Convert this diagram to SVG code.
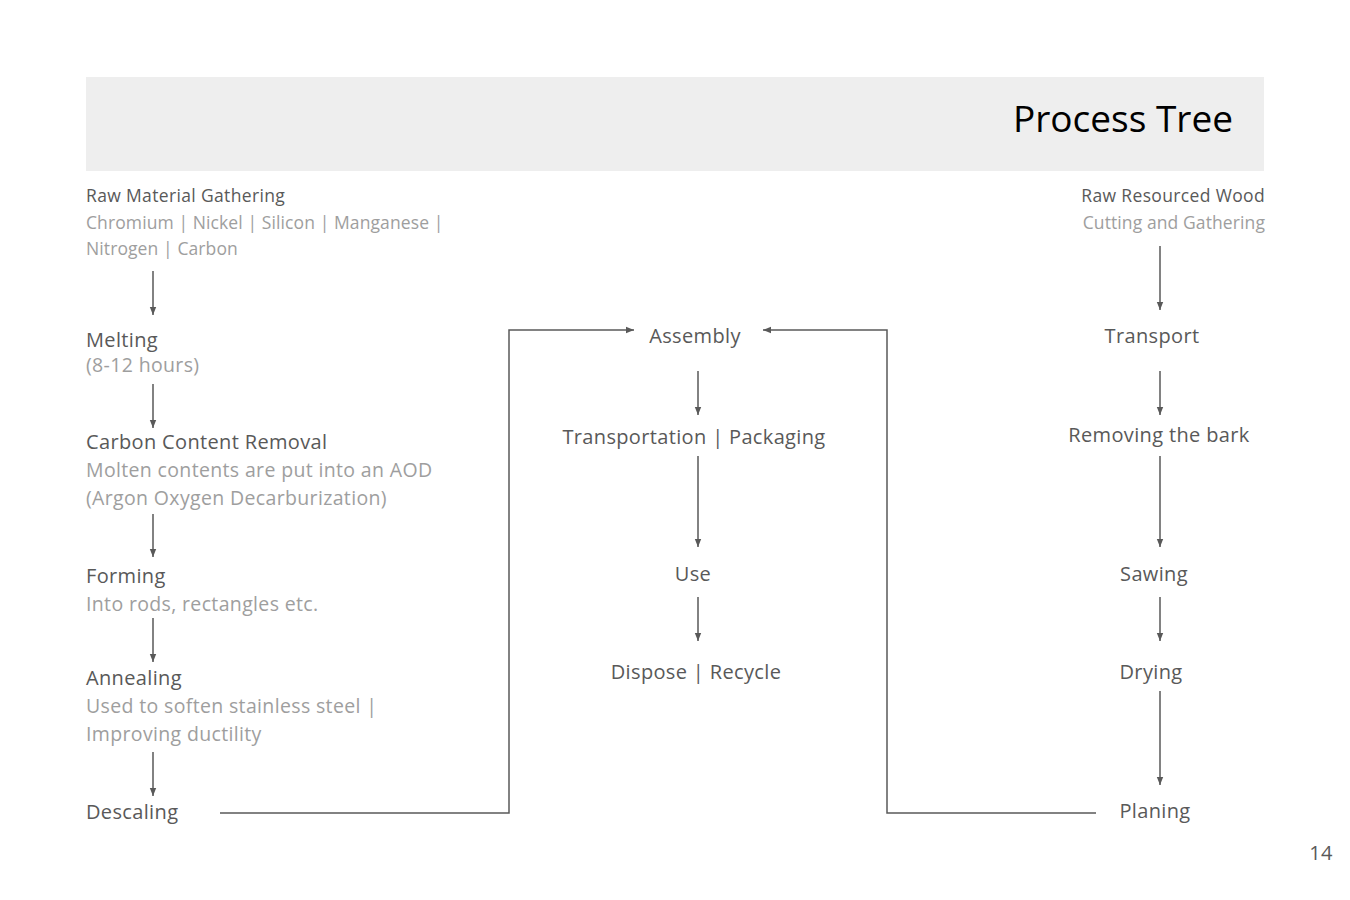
<svg xmlns="http://www.w3.org/2000/svg" width="1350" height="900" viewBox="0 0 1350 900">
<defs>
<marker id="ah" viewBox="0 0 10 10" refX="10" refY="5" markerWidth="8" markerHeight="8" markerUnits="userSpaceOnUse" orient="auto">
<path d="M0,1 L10,5 L0,9 z" fill="#595959"/>
</marker>
<style>
text{font-family:"Open Sans",Lato,"Noto Sans","Liberation Sans",sans-serif;letter-spacing:0.35px;}
.h{fill:#595959;font-size:20px;}
.s{fill:#595959;font-size:17.5px;}
.g{fill:#9e9e9e;font-size:19.5px;}
.gs{fill:#9e9e9e;font-size:17.5px;letter-spacing:0.1px;}
.c{text-anchor:middle;}
.r{text-anchor:end;}
.ln{stroke:#595959;stroke-width:1.5;fill:none;}
</style>
</defs>
<rect width="1350" height="900" fill="#ffffff"/>
<g id="header">
<rect x="86" y="77" width="1178" height="94" fill="#eeeeee"/>
<text x="1233" y="132" class="r" style="font-size:37px;fill:#000000;letter-spacing:0">Process Tree</text>
</g>
<g id="raw-material">
<text x="86" y="202" class="s">Raw Material Gathering</text>
<text x="86" y="229" class="gs">Chromium | Nickel | Silicon | Manganese |</text>
<text x="86" y="255" class="gs">Nitrogen | Carbon</text>
</g>
<g id="melting">
<text x="86" y="347" class="h">Melting</text>
<text x="86" y="372" class="g">(8-12 hours)</text>
</g>
<g id="carbon-removal">
<text x="86" y="449" class="h">Carbon Content Removal</text>
<text x="86" y="477" class="g">Molten contents are put into an AOD</text>
<text x="86" y="505" class="g">(Argon Oxygen Decarburization)</text>
</g>
<g id="forming">
<text x="86" y="583" class="h">Forming</text>
<text x="86" y="611" class="g">Into rods, rectangles etc.</text>
</g>
<g id="annealing">
<text x="86" y="685" class="h">Annealing</text>
<text x="86" y="713" class="g">Used to soften stainless steel |</text>
<text x="86" y="741" class="g">Improving ductility</text>
</g>
<g id="descaling">
<text x="86" y="819" class="h">Descaling</text>
</g>
<g id="assembly"><text x="695" y="343" class="h c">Assembly</text></g>
<g id="transportation"><text x="694" y="444" class="h c">Transportation | Packaging</text></g>
<g id="use"><text x="693" y="581" class="h c">Use</text></g>
<g id="dispose"><text x="696" y="679" class="h c">Dispose | Recycle</text></g>
<g id="raw-wood">
<text x="1265" y="202" class="s r">Raw Resourced Wood</text>
<text x="1265" y="229" class="gs r">Cutting and Gathering</text>
</g>
<g id="transport"><text x="1152" y="343" class="h c">Transport</text></g>
<g id="bark"><text x="1159" y="442" class="h c">Removing the bark</text></g>
<g id="sawing"><text x="1154" y="581" class="h c">Sawing</text></g>
<g id="drying"><text x="1151" y="679" class="h c">Drying</text></g>
<g id="planing"><text x="1155" y="818" class="h c">Planing</text></g>
<g id="page-number"><text x="1321" y="860" class="h c">14</text></g>
<g id="connectors" class="ln" marker-end="url(#ah)">
<line x1="153" y1="271" x2="153" y2="315" class="ln" marker-end="url(#ah)"/>
<line x1="153" y1="384" x2="153" y2="428" class="ln" marker-end="url(#ah)"/>
<line x1="153" y1="514" x2="153" y2="557" class="ln" marker-end="url(#ah)"/>
<line x1="153" y1="618" x2="153" y2="662" class="ln" marker-end="url(#ah)"/>
<line x1="153" y1="752" x2="153" y2="796" class="ln" marker-end="url(#ah)"/>
<polyline points="220,813 509,813 509,330 634,330" class="ln" marker-end="url(#ah)"/>
<line x1="698" y1="371" x2="698" y2="415" class="ln" marker-end="url(#ah)"/>
<line x1="698" y1="456" x2="698" y2="547" class="ln" marker-end="url(#ah)"/>
<line x1="698" y1="597" x2="698" y2="641" class="ln" marker-end="url(#ah)"/>
<line x1="1160" y1="246" x2="1160" y2="310" class="ln" marker-end="url(#ah)"/>
<line x1="1160" y1="371" x2="1160" y2="415" class="ln" marker-end="url(#ah)"/>
<line x1="1160" y1="456" x2="1160" y2="547" class="ln" marker-end="url(#ah)"/>
<line x1="1160" y1="597" x2="1160" y2="641" class="ln" marker-end="url(#ah)"/>
<line x1="1160" y1="691" x2="1160" y2="785" class="ln" marker-end="url(#ah)"/>
<polyline points="1096,813 887,813 887,330 763,330" class="ln" marker-end="url(#ah)"/>
</g>
</svg>
